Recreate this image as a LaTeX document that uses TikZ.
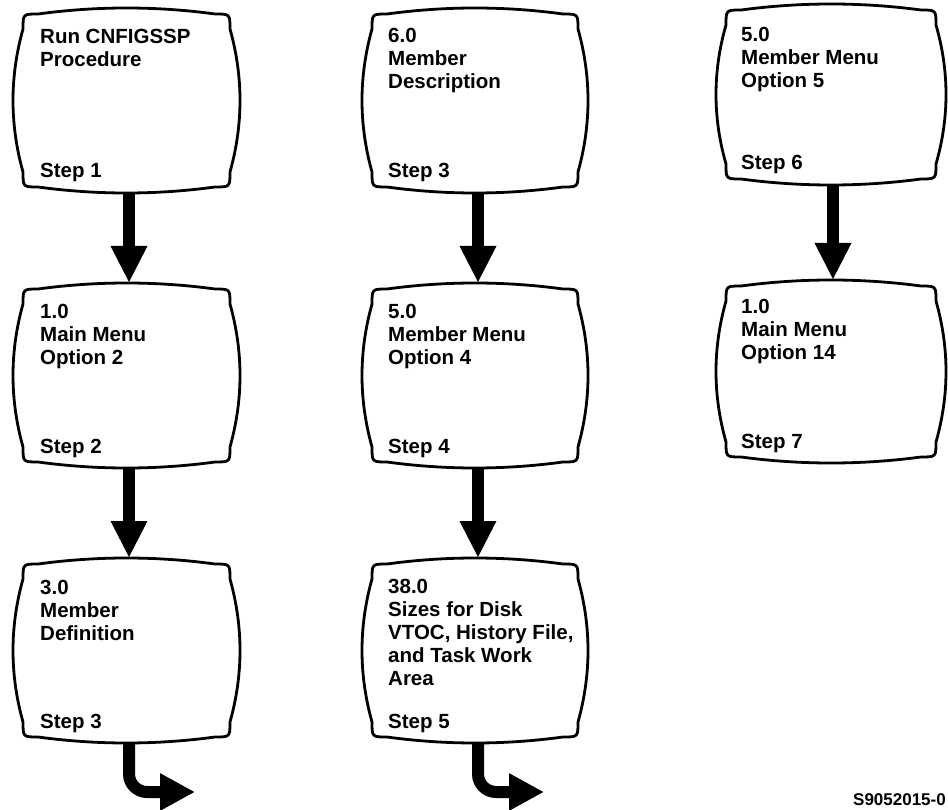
\documentclass[tikz,border=0pt]{standalone}
\usepackage{fontspec}
\setmainfont{Liberation Sans}
\usetikzlibrary{arrows.meta}
\tikzset{
  tvline/.style={line width=2.8pt, line join=round},
  boxarea/.style={rectangle, draw=none, inner sep=0pt, outer sep=0pt},
  boxtext/.style={anchor=base west, inner sep=0pt, font=\bfseries\fontsize{20.5}{23}\selectfont},
  labeltext/.style={anchor=base east, inner sep=0pt, font=\bfseries\fontsize{17}{20}\selectfont},
  downarrow/.style={line width=12pt, -{Triangle[length=37pt,width=34pt]}},
  turnarrow/.style={line width=12pt, rounded corners=18pt, -{Triangle[length=35pt,width=35pt]}},
}
% #1 name, #2 x1, #3 y1, #4 x2, #5 y2 (pixel coords, y downward)
\newcommand\tvbox[5]{%
  \pgfmathsetmacro\tvW{#4-#2}%
  \pgfmathsetmacro\tvH{#5-#3}%
  \node[boxarea, minimum width=\tvW pt, minimum height=\tvH pt, anchor=north west] (#1) at (#2,#3) {};
  \pgfmathsetmacro\tvS{10}\pgfmathsetmacro\tvT{6}\pgfmathsetmacro\tvR{15}%
  \pgfmathsetmacro\tvXa{#2+\tvS}\pgfmathsetmacro\tvXb{#4-\tvS}%
  \pgfmathsetmacro\tvYa{#3+\tvT}\pgfmathsetmacro\tvYb{#5-\tvT}%
  \pgfmathsetmacro\tvXl{\tvXa+\tvR}\pgfmathsetmacro\tvXr{\tvXb-\tvR}%
  \pgfmathsetmacro\tvYt{\tvYa+\tvR}\pgfmathsetmacro\tvYd{\tvYb-\tvR}%
  \pgfmathsetmacro\tvXlc{\tvXl+(\tvXr-\tvXl)/3}\pgfmathsetmacro\tvXrc{\tvXr-(\tvXr-\tvXl)/3}%
  \pgfmathsetmacro\tvYtc{\tvYt+(\tvYd-\tvYt)/3}\pgfmathsetmacro\tvYdc{\tvYd-(\tvYd-\tvYt)/3}%
  \pgfmathsetmacro\tvTop{#3-\tvT/3}\pgfmathsetmacro\tvBot{#5+\tvT/3}%
  \pgfmathsetmacro\tvLft{#2-\tvS/3}\pgfmathsetmacro\tvRgt{#4+\tvS/3}%
  \draw[tvline] (\tvXl,\tvYa) .. controls (\tvXlc,\tvTop) and (\tvXrc,\tvTop) .. (\tvXr,\tvYa)
    .. controls (\tvXb,\tvYa) .. (\tvXb,\tvYt)
    .. controls (\tvRgt,\tvYtc) and (\tvRgt,\tvYdc) .. (\tvXb,\tvYd)
    .. controls (\tvXb,\tvYb) .. (\tvXr,\tvYb)
    .. controls (\tvXrc,\tvBot) and (\tvXlc,\tvBot) .. (\tvXl,\tvYb)
    .. controls (\tvXa,\tvYb) .. (\tvXa,\tvYd)
    .. controls (\tvLft,\tvYdc) and (\tvLft,\tvYtc) .. (\tvXa,\tvYt)
    .. controls (\tvXa,\tvYa) .. cycle;
}
\begin{document}
\begin{tikzpicture}[x=1pt,y=-1pt]
\useasboundingbox (0,0) rectangle (948,810);
% left column
\tvbox{l1}{13}{8}{240}{193}
\tvbox{l2}{13}{283}{240}{468}
\tvbox{l3}{13}{558}{240}{743}
\node[boxtext] (l1t) at (40,44) {\begin{tabular}[t]{@{}l@{}}Run CNFIGSSP\\Procedure\end{tabular}};
\node[boxtext] (l1s) at (40,178) {Step 1};
\node[boxtext] (l2t) at (40,319) {\begin{tabular}[t]{@{}l@{}}1.0\\Main Menu\\Option 2\end{tabular}};
\node[boxtext] (l2s) at (40,453) {Step 2};
\node[boxtext] (l3t) at (40,594) {\begin{tabular}[t]{@{}l@{}}3.0\\Member\\Definition\end{tabular}};
\node[boxtext] (l3s) at (40,728) {Step 3};
% middle column
\tvbox{m1}{362}{8}{588}{193}
\tvbox{m2}{362}{283}{588}{468}
\tvbox{m3}{362}{558}{588}{743}
\node[boxtext] (m1t) at (388,43) {\begin{tabular}[t]{@{}l@{}}6.0\\Member\\Description\end{tabular}};
\node[boxtext] (m1s) at (388,178) {Step 3};
\node[boxtext] (m2t) at (388,319) {\begin{tabular}[t]{@{}l@{}}5.0\\Member Menu\\Option 4\end{tabular}};
\node[boxtext] (m2s) at (388,453) {Step 4};
\node[boxtext] (m3t) at (388,593) {\begin{tabular}[t]{@{}l@{}}38.0\\Sizes for Disk\\VTOC, History File,\\and Task Work\\Area\end{tabular}};
\node[boxtext] (m3s) at (388,728) {Step 5};
% right column
\tvbox{r1}{716}{4}{946}{185}
\tvbox{r2}{716}{280}{946}{463}
\node[boxtext] (r1t) at (741,42) {\begin{tabular}[t]{@{}l@{}}5.0\\Member Menu\\Option 5\end{tabular}};
\node[boxtext] (r1s) at (741,170) {Step 6};
\node[boxtext] (r2t) at (741,314) {\begin{tabular}[t]{@{}l@{}}1.0\\Main Menu\\Option 14\end{tabular}};
\node[boxtext] (r2s) at (741,448) {Step 7};
% connectors
\draw[downarrow] ([xshift=2.5pt]l1.south) -- ([xshift=2.5pt]l2.north);
\draw[downarrow] ([xshift=2.5pt]l2.south) -- ([xshift=2.5pt]l3.north);
\draw[downarrow] ([xshift=3pt]m1.south) -- ([xshift=3pt]m2.north);
\draw[downarrow] ([xshift=3pt]m2.south) -- ([xshift=3pt]m3.north);
\draw[downarrow] ([xshift=2pt]r1.south) -- ([xshift=2pt]r2.north);
\coordinate (l3end) at (195,792);
\coordinate (m3end) at (544,792);
\draw[turnarrow] ([xshift=2.5pt]l3.south) |- (l3end);
\draw[turnarrow] ([xshift=3pt]m3.south) |- (m3end);
% figure label
\node[labeltext] (fig) at (946,805) {S9052015-0};
\end{tikzpicture}
\end{document}
